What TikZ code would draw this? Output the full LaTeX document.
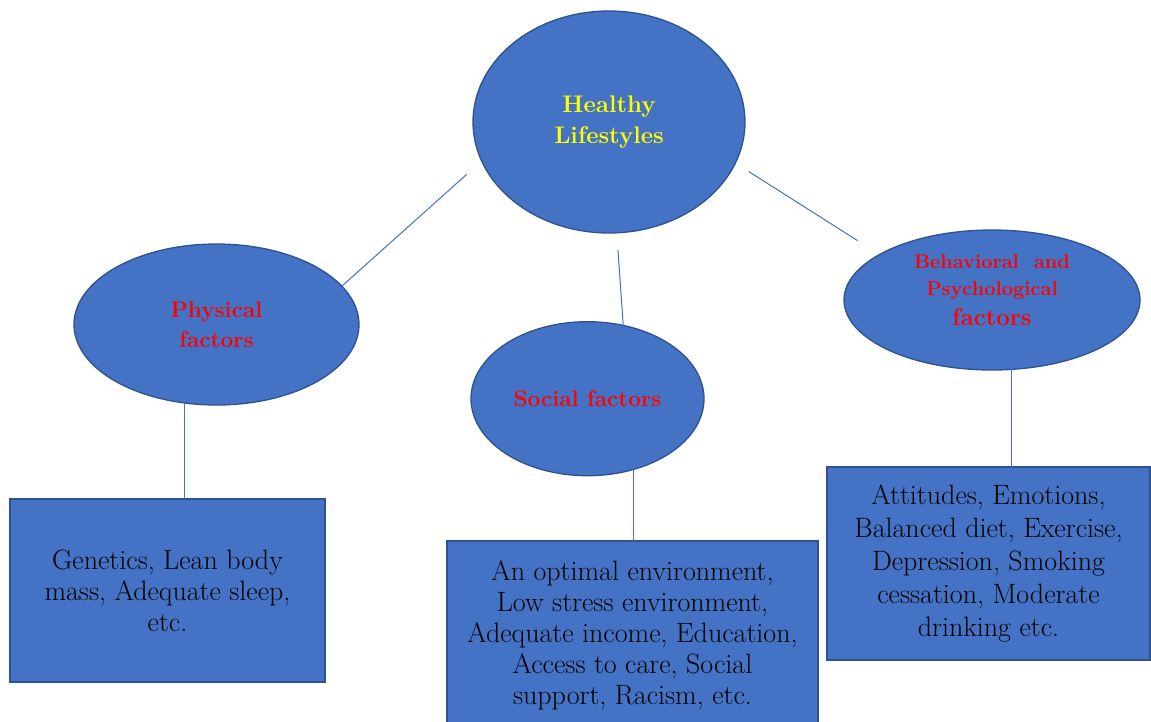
\documentclass[tikz,border=0pt]{standalone}
\usepackage{fontspec}
\usetikzlibrary{shapes.geometric}

\definecolor{ovalblue}{HTML}{4472C4}
\definecolor{edgeblue}{HTML}{2F528F}
\definecolor{hlyellow}{HTML}{FFFF00}
\definecolor{hlred}{HTML}{FF0000}

\tikzset{
  oval/.style={ellipse,draw=edgeblue,line width=1.3pt,fill=ovalblue,inner sep=0pt,outer sep=0pt,align=center},
  factbox/.style={rectangle,draw=edgeblue,line width=1.5pt,fill=ovalblue,inner sep=0pt,outer sep=0pt,align=center,
    font={\fontsize{28}{31}\selectfont}},
  link/.style={draw=ovalblue,line width=1pt},
}

\begin{document}
\begin{tikzpicture}[x=1pt,y=-1pt]
  \useasboundingbox (0,0) rectangle (1151,721);
  \clip (0,0) rectangle (1151,721);

  % ovals
  \node[oval,minimum width=272pt,minimum height=222pt,text=hlyellow,
    font={\bfseries\fontsize{24}{31}\selectfont}] (hl) at (609,122) {Healthy\\Lifestyles};
  \node[oval,minimum width=285pt,minimum height=161pt,text=hlred,
    font={\bfseries\fontsize{22.5}{30}\selectfont}] (phys) at (216.5,324.5) {Physical\\factors};
  \node[oval,minimum width=233pt,minimum height=154pt,text=hlred,
    font={\bfseries\fontsize{22.5}{30}\selectfont}] (social) at (587.5,398.7) {Social factors};
  \node[oval,minimum width=296pt,minimum height=140pt,text=hlred,text depth=20pt,
    font={\bfseries\fontsize{20}{27}\selectfont}] (bp) at (992,300)
    {{\addfontfeature{LetterSpace=4}Behavioral\ \ and}\\
     {\addfontfeature{LetterSpace=4}Psychological}\\[3pt]
     {\fontsize{24}{30}\selectfont factors}};

  % boxes
  \node[factbox,minimum width=315pt,minimum height=183pt] (lbox) at (167.5,590.5)
    {Genetics, Lean body\\mass, Adequate sleep,\\etc.};
  \node[factbox,minimum width=371pt,minimum height=188pt] (sbox) at (632.5,635)
    {An optimal environment,\\Low stress environment,\\Adequate income, Education,\\Access to care, Social\\support, Racism, etc.};
  \node[factbox,minimum width=323pt,minimum height=193pt,font={\fontsize{28}{33}\selectfont}] (bbox) at (988.5,563.5)
    {Attitudes, Emotions,\\Balanced diet, Exercise,\\Depression, Smoking\\cessation, Moderate\\drinking etc.};

  % links
  \draw[link,shorten <=20pt] (hl.197) -- (phys.17);
  \draw[link,shorten <=17pt] (hl.-86) -- (social.64);
  \draw[link,shorten <=16pt,shorten >=26pt] (hl.-18) -- (bp.158);
  \draw[link] (phys.-112) -- (phys.-112 |- lbox.north);
  \draw[link] (social.-57) -- (social.-57 |- sbox.north);
  \draw[link] (bp.-74) -- (bp.-74 |- bbox.north);
\end{tikzpicture}
\end{document}
